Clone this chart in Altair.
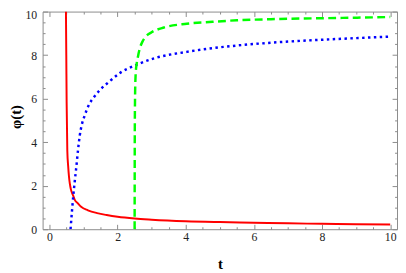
import altair as alt
import pandas as pd

# --- data ---
red_t = [0.485, 0.495, 0.505, 0.525, 0.55, 0.574, 0.60, 0.63, 0.70, 0.74, 0.84, 0.93,
         1.13, 1.4, 1.68, 2.0, 2.5, 3.0, 4.0, 5.0, 6.0, 7.0, 8.0, 9.0, 10.0]
red_phi = [10, 8, 5.84, 3.61, 2.9, 2.42, 2.08, 1.83, 1.53, 1.36, 1.18, 1.03,
           0.87, 0.74, 0.65, 0.57, 0.49, 0.44, 0.37, 0.33, 0.30, 0.27, 0.25, 0.23, 0.22]

blue_t = [0.62, 0.66, 0.70, 0.75, 0.79, 0.84, 0.89, 0.95, 1.03, 1.17, 1.3, 1.46, 1.74,
          2.07, 2.55, 3.07, 4.03, 4.79, 5.5, 6.5, 7.79, 9.0, 10.0]
blue_phi = [0, 0.8, 1.53, 2.3, 2.87, 3.65, 4.3, 4.8, 5.2, 5.75, 6.05, 6.36, 6.76,
            7.18, 7.55, 7.85, 8.15, 8.32, 8.44, 8.57, 8.69, 8.78, 8.85]

green_t = [2.5, 2.505, 2.515, 2.53, 2.56, 2.6, 2.66, 2.73, 2.82, 3.0, 3.36, 4.03,
           4.79, 5.5, 6.5, 7.79, 9.0, 10.0]
green_phi = [0, 4.5, 6.3, 7.1, 7.6, 7.95, 8.35, 8.62, 8.84, 9.05, 9.27, 9.44,
             9.53, 9.6, 9.65, 9.69, 9.72, 9.75]

tick_values = [i * 0.5 for i in range(21)]

df_red = pd.DataFrame({"t": red_t, "phi": red_phi})
df_blue = pd.DataFrame({"t": blue_t, "phi": blue_phi})
df_green = pd.DataFrame({"t": green_t, "phi": green_phi})

FRAME = "#8a8a8a"
SERIF = "'Liberation Serif', 'Times New Roman', 'DejaVu Serif', serif"
tick_expr = {"expr": "datum.value % 2 == 0 ? -5 : -2.5"}
label_expr = "datum.value % 2 == 0 ? format(datum.value, 'd') : ''"

common = dict(values=tick_values, domain=False, grid=False, tickColor=FRAME,
              tickWidth=1, tickSize=tick_expr, labelOverlap=False, labelFlush=False,
              labelFont=SERIF, labelFontSize=12, labelColor="#222222",
              titleFont=SERIF, titleFontSize=15, titleFontWeight="bold",
              titleColor="#000000")

x_bottom = alt.Axis(orient="bottom", labelExpr=label_expr, labelPadding=8,
                    titleX=181, titleY=40.5, titleBaseline="alphabetic",
                    titleAlign="center", **common)
y_left = alt.Axis(orient="left", labelExpr=label_expr, labelPadding=11,
                  labelOffset={"expr": "datum.value == 10 ? 3 : 0"},
                  titleX=-27.5, titleY=107, titleAngle=-90, titleBaseline="middle",
                  titleAlign="center", **common)
x_top = alt.Axis(orient="top", labels=False, title=None, **common)
y_right = alt.Axis(orient="right", labels=False, title=None, **common)

xs = alt.Scale(domain=[-0.2, 10.2], nice=False, zero=False)
ys = alt.Scale(domain=[0, 10], nice=False, zero=False)

red = alt.Chart(df_red).mark_line(
    color="#ff0000", strokeWidth=2, interpolate="monotone", clip=True
).encode(
    x=alt.X("t:Q", scale=xs, axis=x_bottom, title="t"),
    y=alt.Y("phi:Q", scale=ys, axis=y_left, title="φ(t)"),
)

blue = alt.Chart(df_blue).mark_line(
    color="#0000ff", strokeWidth=2.5, strokeDash=[2.5, 3.5],
    interpolate="monotone", clip=True
).encode(
    x=alt.X("t:Q", scale=xs, axis=x_top),
    y=alt.Y("phi:Q", scale=ys, axis=y_right),
)

green = alt.Chart(df_green).mark_line(
    color="#00ff00", strokeWidth=2.5, strokeDash=[8, 4.5],
    interpolate="monotone", clip=True
).encode(
    x=alt.X("t:Q", scale=xs, axis=None),
    y=alt.Y("phi:Q", scale=ys, axis=None),
)

chart = alt.layer(red, blue, green).resolve_axis(
    x="independent", y="independent"
).properties(
    width=361.5,
    height=222,
    autosize=alt.AutoSizeParams(type="none"),
    padding={"left": 35.3, "top": 1, "right": 1, "bottom": 42},
).configure_view(
    stroke=FRAME, strokeWidth=1
).configure_axis(
    labelFont=SERIF, titleFont=SERIF
)

chart.save("out.html", embed_options={"renderer": "svg", "actions": False})
